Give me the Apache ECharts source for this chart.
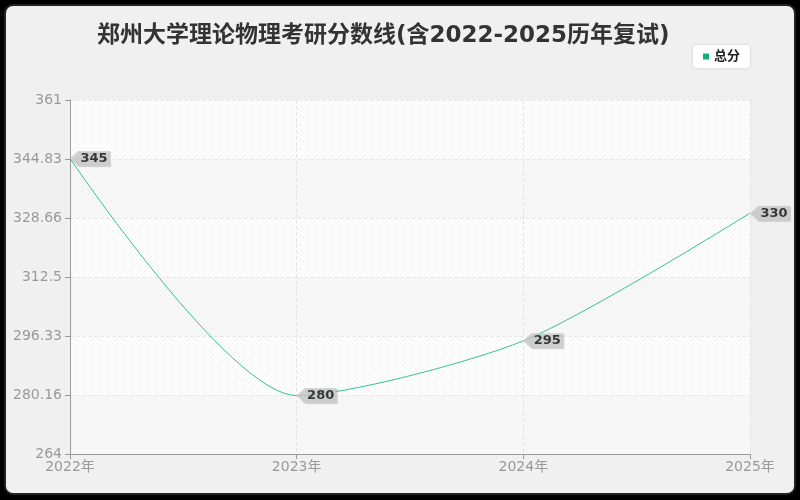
<!DOCTYPE html>
<html>
<head>
<meta charset="utf-8">
<script src="https://cdn.jsdelivr.net/npm/echarts@6/dist/echarts.min.js"></script>
<style>
  html, body { margin: 0; padding: 0; background: #000; }
  #card {
    position: absolute; left: 4px; top: 4px; width: 788px; height: 487px;
    background: #f0f0f0; border: 2px solid #222; border-radius: 9px;
  }
  #main { position: absolute; left: 0; top: 0; width: 800px; height: 500px; }
</style>
</head>
<body>
<div id="card"></div>
<div id="main"></div>
<script>
var years = ['2022年', '2023年', '2024年', '2025年'];
var scores = [345, 280, 295, 330];
var yTicks = [264, 280.16, 296.33, 312.5, 328.66, 344.83, 361];

// striped tile for the split areas
function stripes(base, line) {
  var c = document.createElement('canvas');
  c.width = 4;
  c.height = 4;
  var ctx = c.getContext('2d');
  ctx.fillStyle = base;
  ctx.fillRect(0, 0, 4, 4);
  ctx.fillStyle = line;
  for (var i = 0; i < 4; i++) {
    ctx.fillRect(i, 3 - i, 1, 1);
  }
  return { image: c, repeat: 'repeat' };
}

var chart = echarts.init(document.getElementById('main'), null, { width: 800, height: 500 });

var font = '"DejaVu Sans", "Noto Sans CJK SC", sans-serif';

var option = {
  animation: false,
  textStyle: { fontFamily: font },
  title: {
    text: '郑州大学理论物理考研分数线(含2022-2025历年复试)',
    left: 92,
    top: 20,
    textStyle: { fontSize: 23, fontWeight: 'bold', color: '#333', fontFamily: font }
  },
  legend: {
    data: ['总分'],
    right: 50,
    top: 45,
    backgroundColor: '#fff',
    borderRadius: 4,
    padding: [5, 10],
    icon: 'rect',
    itemWidth: 6,
    itemHeight: 6,
    itemGap: 6,
    textStyle: { fontSize: 13, color: '#222', fontWeight: 'bold', fontFamily: font },
    shadowColor: 'rgba(0,0,0,0.15)',
    shadowBlur: 3
  },
  grid: { left: 70, right: 50, top: 100, bottom: 46 },
  xAxis: {
    type: 'category',
    data: years,
    boundaryGap: false,
    axisLine: { lineStyle: { color: '#999' } },
    axisTick: { show: true, length: 5, lineStyle: { color: '#999' } },
    axisLabel: { color: '#999', fontSize: 14, margin: 6, fontFamily: font },
    splitLine: { show: true, lineStyle: { color: '#e4e4e4', type: 'dashed' } }
  },
  yAxis: {
    type: 'value',
    min: 264,
    max: 361,
    axisLine: { show: true, lineStyle: { color: '#999' } },
    axisTick: { show: true, length: 5, customValues: yTicks, lineStyle: { color: '#999' } },
    axisLabel: { color: '#999', fontSize: 14, margin: 8, customValues: yTicks, fontFamily: font },
    splitLine: { show: true, lineStyle: { color: '#e8e8e8', type: 'dashed' } },
    splitArea: {
      show: true,
      areaStyle: { color: [stripes('#f8f8f8', '#f1f1f1'), stripes('#ffffff', '#f3f3f3')] }
    }
  },
  series: [
    {
      name: '总分',
      type: 'line',
      data: scores,
      smooth: 0.25,
      showSymbol: false,
      itemStyle: { color: '#13b07a' },
      lineStyle: { color: '#36c293', width: 1 }
    },
    {
      name: 'tags',
      type: 'scatter',
      data: scores,
      clip: false,
      symbol: 'path://M0,8 L8,0 L40,0 L40,16 L8,16 Z',
      symbolKeepAspect: false,
      symbolSize: [40, 15],
      symbolOffset: [20, 0],
      itemStyle: { color: '#cccccc', shadowColor: 'rgba(0,0,0,0.2)', shadowBlur: 1, shadowOffsetX: 1, shadowOffsetY: 1 },
      label: {
        show: true,
        position: 'inside',
        offset: [4, 0],
        color: '#111',
        fontSize: 13,
        fontWeight: 'bold',
        fontFamily: font
      },
      z: 5
    }
  ]
};

chart.setOption(option);
</script>
</body>
</html>
